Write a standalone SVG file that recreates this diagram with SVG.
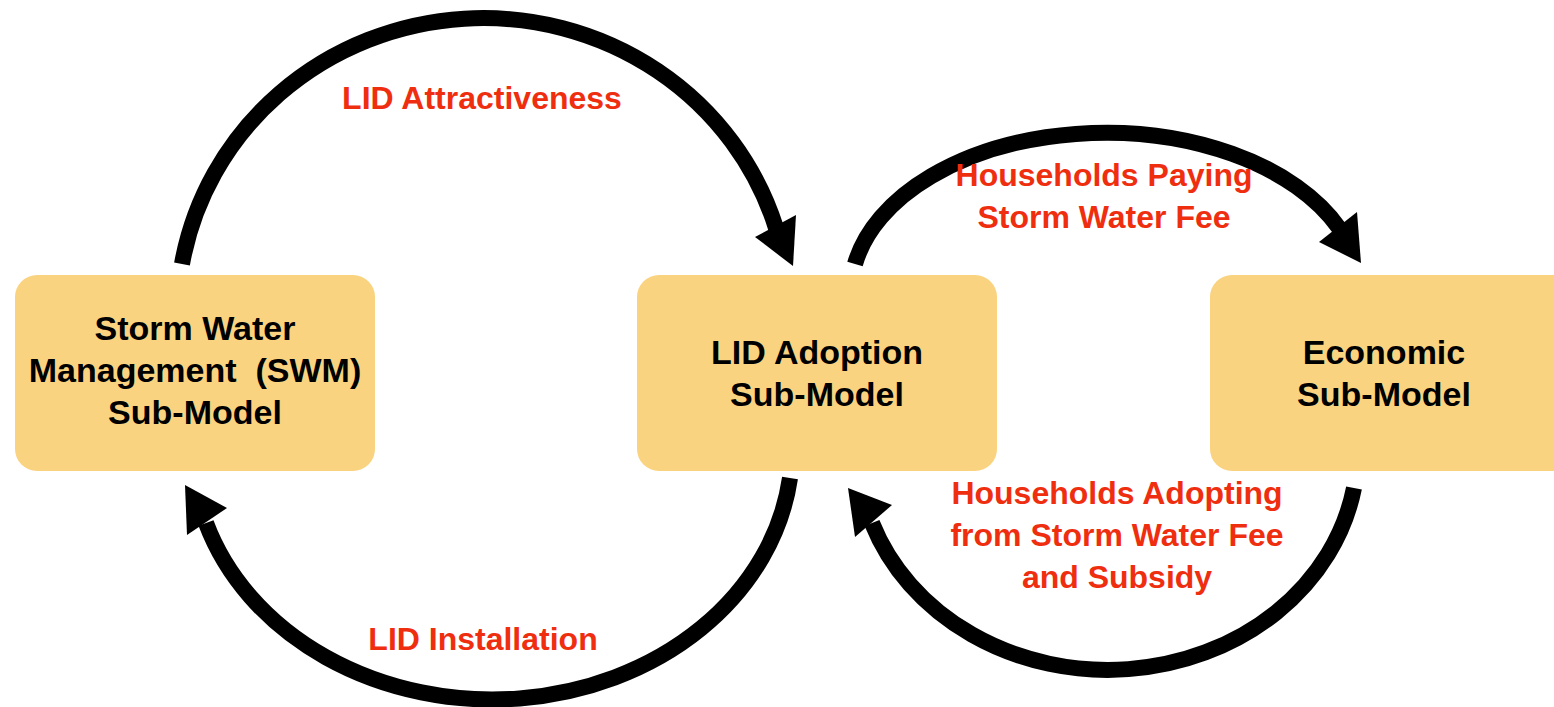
<svg xmlns="http://www.w3.org/2000/svg" width="1554" height="707" viewBox="0 0 1554 707">
  <style>
    .box { fill: #FAD380; }
    .name { font-family: "Liberation Sans", Arial, Helvetica, sans-serif; font-weight: bold; font-size: 34px; fill: #000; text-anchor: middle; }
    .flow { font-family: "Liberation Sans", Arial, Helvetica, sans-serif; font-weight: bold; font-size: 32px; fill: #EF2E10; text-anchor: middle; }
    .arc { fill: none; stroke: #000; stroke-width: 16; stroke-linecap: butt; }
    .head { fill: #000; }
  </style>
  <rect width="1554" height="707" fill="#FFFFFF"/>

  <!-- curved feedback arrows between the sub-models -->
  <g id="connectors">
    <path class="arc" d="M 182 264 A 306 297 0 0 1 776 228"/>
    <polygon class="head" points="793,266 755,237 796,215"/>

    <path class="arc" d="M 790 478 A 300 252 0 0 1 206 523"/>
    <polygon class="head" points="185,485 227,508 187,535"/>

    <path class="arc" d="M 855 264 A 255 160 0 0 1 1339 228"/>
    <polygon class="head" points="1361,263 1319,242 1357,212"/>

    <path class="arc" d="M 1354 488 A 250 220 0 0 1 872 523"/>
    <polygon class="head" points="848,488 892,505 855,537"/>

    <text class="flow" x="482" y="109">LID Attractiveness</text>
    <text class="flow" x="483" y="650">LID Installation</text>
    <text class="flow" x="1104" y="186">Households Paying</text>
    <text class="flow" x="1104" y="228">Storm Water Fee</text>
    <text class="flow" x="1117" y="504">Households Adopting</text>
    <text class="flow" x="1117" y="546">from Storm Water Fee</text>
    <text class="flow" x="1117" y="588">and Subsidy</text>
  </g>

  <g id="swm-submodel">
    <rect class="box" x="15" y="275" width="360" height="196" rx="22"/>
    <text class="name" x="195" y="340">Storm Water</text>
    <text class="name" x="195" y="382" xml:space="preserve">Management  (SWM)</text>
    <text class="name" x="195" y="424">Sub-Model</text>
  </g>

  <g id="lid-adoption-submodel">
    <rect class="box" x="637" y="275" width="360" height="196" rx="22"/>
    <text class="name" x="817" y="364">LID Adoption</text>
    <text class="name" x="817" y="406">Sub-Model</text>
  </g>

  <g id="economic-submodel">
    <rect class="box" x="1210" y="275" width="370" height="196" rx="22"/>
    <text class="name" x="1384" y="364">Economic</text>
    <text class="name" x="1384" y="406">Sub-Model</text>
  </g>
</svg>
